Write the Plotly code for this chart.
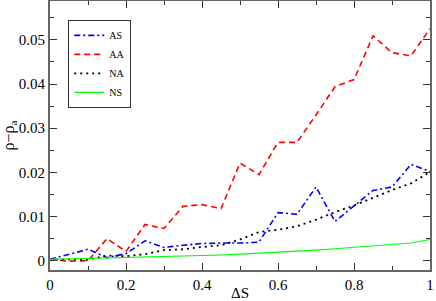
import plotly.graph_objects as go

# Delta S grid and the four curves
delta_s = [0.0, 0.05, 0.1, 0.15, 0.2, 0.25, 0.3, 0.35, 0.4, 0.45, 0.5,
           0.55, 0.6, 0.65, 0.7, 0.75, 0.8, 0.85, 0.9, 0.95, 1.0]

as_vals = [0.0003, 0.0014, 0.0026, 0.0007, 0.0016, 0.0045, 0.0030, 0.0035,
           0.0039, 0.0040, 0.0040, 0.0042, 0.0109, 0.0105, 0.0167, 0.0089,
           0.0125, 0.0159, 0.0167, 0.0218, 0.0202]
aa_vals = [0.0003, -0.0001, 0.0000, 0.0050, 0.0021, 0.0082, 0.0073, 0.0123,
           0.0127, 0.0118, 0.0221, 0.0195, 0.0268, 0.0268, 0.0330, 0.0394,
           0.0410, 0.0509, 0.0471, 0.0464, 0.0525]
na_vals = [0.0002, 0.0003, 0.0002, 0.0012, 0.0010, 0.0015, 0.0024, 0.0026,
           0.0031, 0.0035, 0.0048, 0.0065, 0.0070, 0.0078, 0.0093, 0.0110,
           0.0125, 0.0143, 0.0160, 0.0175, 0.0201]
ns_vals = [0.0003, 0.0004, 0.0005, 0.0006, 0.0007, 0.0008, 0.0009, 0.0011,
           0.0012, 0.0013, 0.0015, 0.0017, 0.0019, 0.0022, 0.0024, 0.0027,
           0.0030, 0.0034, 0.0037, 0.0040, 0.0048]

series = [
    ("AS", as_vals, "#0000ff", "6px,3px,2px,3px", 1.6),
    ("AA", aa_vals, "#ff0000", "6px,4px", 1.6),
    ("NA", na_vals, "#000000", "2px,4px", 1.8),
    ("NS", ns_vals, "#00ff00", "solid", 1.1),
]

FONT = "Liberation Serif, Times New Roman, serif"
AXIS_COLOR = "#666666"

fig = go.Figure()
for name, vals, color, dash, width in series:
    fig.add_trace(
        go.Scatter(
            x=delta_s,
            y=vals,
            mode="lines",
            name=name,
            line=dict(color=color, dash=dash, width=width),
        )
    )

axis_common = dict(
    showline=True,
    linecolor=AXIS_COLOR,
    linewidth=2,
    mirror="allticks",
    ticks="inside",
    ticklen=7,
    tickwidth=1,
    tickcolor="#333333",
    showgrid=False,
    zeroline=False,
    automargin=False,
    tickfont=dict(family=FONT, size=15, color="black"),
)

fig.update_xaxes(
    range=[0, 1],
    dtick=0.2,
    minor=dict(ticks="inside", dtick=0.1, ticklen=4, tickcolor="#333333"),
    title=dict(text="ΔS", font=dict(family=FONT, size=15, color="black"), standoff=0),
    **axis_common,
)
fig.update_yaxes(
    range=[-0.0021, 0.0588],
    dtick=0.01,
    minor=dict(ticks="inside", dtick=0.005, ticklen=4, tickcolor="#333333"),
    title=dict(text="ρ−ρ<sub>a</sub>", font=dict(family=FONT, size=16, color="black"), standoff=2),
    **axis_common,
)

fig.update_layout(
    width=436,
    height=301,
    margin=dict(l=50, r=6, t=1, b=31),
    plot_bgcolor="white",
    paper_bgcolor="white",
    font=dict(family=FONT, color="black"),
    legend=dict(
        x=0.048,
        y=0.93,
        xanchor="left",
        yanchor="top",
        bgcolor="white",
        bordercolor="#333333",
        borderwidth=1,
        font=dict(family=FONT, size=10),
        tracegroupgap=0,
        itemwidth=30,
    ),
)

# drop the default page margin so the figure sits at the window's corner
fig.write_html(
    "out.html",
    config={"displayModeBar": False},
    post_script="document.body.style.margin = '0';",
)
